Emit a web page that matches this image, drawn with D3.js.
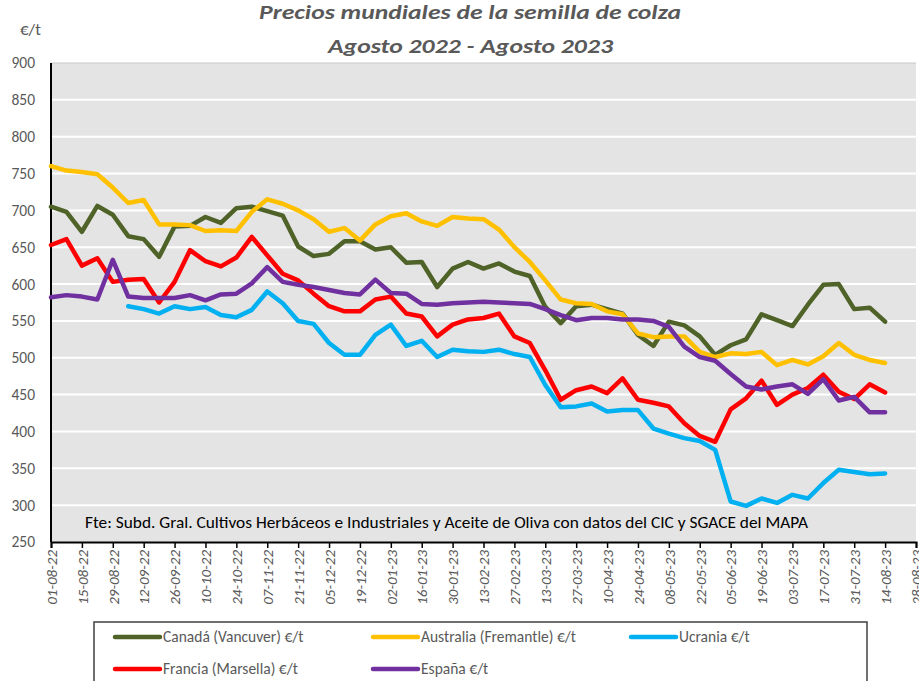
<!DOCTYPE html>
<html><head><meta charset="utf-8">
<script src="https://cdn.jsdelivr.net/npm/d3@7"></script>
<style>
body{margin:0;background:#fff;}
svg{display:block;font-family:Carlito,Calibri,Lato,"Open Sans",sans-serif;}
</style></head>
<body><svg id="c" width="919" height="681"></svg>
<script>
const dates = ["01-08-22","08-08-22","15-08-22","22-08-22","29-08-22","05-09-22","12-09-22","19-09-22","26-09-22","03-10-22",
"10-10-22","17-10-22","24-10-22","31-10-22","07-11-22","14-11-22","21-11-22","28-11-22","05-12-22","12-12-22",
"19-12-22","26-12-22","02-01-23","09-01-23","16-01-23","23-01-23","30-01-23","06-02-23","13-02-23","20-02-23",
"27-02-23","06-03-23","13-03-23","20-03-23","27-03-23","03-04-23","10-04-23","17-04-23","24-04-23","01-05-23",
"08-05-23","15-05-23","22-05-23","29-05-23","05-06-23","12-06-23","19-06-23","26-06-23","03-07-23","10-07-23",
"17-07-23","24-07-23","31-07-23","07-08-23","14-08-23"];
const tickLabels = ["01-08-22","15-08-22","29-08-22","12-09-22","26-09-22","10-10-22","24-10-22","07-11-22","21-11-22","05-12-22",
"19-12-22","02-01-23","16-01-23","30-01-23","13-02-23","27-02-23","13-03-23","27-03-23","10-04-23","24-04-23",
"08-05-23","22-05-23","05-06-23","19-06-23","03-07-23","17-07-23","31-07-23","14-08-23","28-08-23"];
const yTicks = [250,300,350,400,450,500,550,600,650,700,750,800,850,900];

const canada = [705,698,671,706,694,665,661,637,678,679,691,683,703,705,699,693,651,638,641,658,658,647,650,629,630,596,621,630,621,628,617,611,569,547,570,572,566,560,531,516,549,544,529,504,517,525,559,551,543,572,599,600,566,568,549];
const australia = [760,754,752,749,731,710,714,681,681,680,672,673,672,698,715,709,700,688,671,676,659,681,692,696,685,679,691,689,688,674,650,630,605,579,574,573,563,559,533,528,529,529,508,501,506,505,508,490,497,491,502,520,504,497,493];
const ucrania = [null,null,null,null,null,570,566,560,570,566,569,558,555,565,590,574,550,546,520,504,504,531,545,516,523,501,511,509,508,511,505,501,463,433,434,438,427,429,429,404,397,391,387,375,305,299,309,303,314,309,330,348,345,342,343];
const francia = [653,661,625,635,603,606,607,575,603,646,631,624,636,664,639,614,605,587,570,563,563,579,583,560,556,529,545,552,554,560,529,520,483,443,456,461,452,472,443,439,434,411,394,386,430,445,469,436,450,459,477,454,444,464,453];
const espana = [582,585,583,579,633,583,581,581,581,585,578,586,587,601,623,603,599,596,592,588,586,606,588,587,573,572,574,575,576,575,574,573,566,558,551,554,554,552,552,550,542,515,501,496,478,461,457,461,464,451,471,442,447,426,426];

const seriesNames = ["Canadá  (Vancuver)  €/t","Australia (Fremantle) €/t","Ucrania €/t","Francia (Marsella) €/t","España €/t"];
const seriesColors = ["#4f6228","#ffc000","#00b0f0","#ff0000","#7030a0"];
const seriesData = [canada, australia, ucrania, francia, espana];

const FONT = "Carlito,Calibri,Lato,sans-serif";
const parse = d3.timeParse("%d-%m-%y");
const svg = d3.select("#c");
const L = 51, R = 916, T = 63, B = 542;
const x = d3.scaleTime().domain([parse(tickLabels[0]), parse(tickLabels[tickLabels.length-1])]).range([L, R]);
const y = d3.scaleLinear().domain([250, 900]).range([B, T]);

svg.append("rect").attr("x", L).attr("y", T).attr("width", R - L).attr("height", B - T).attr("fill", "#e4e4e4");
svg.append("line").attr("x1", L).attr("x2", R).attr("y1", T).attr("y2", T).attr("stroke", "#c8c8c8").attr("stroke-width", 1);

// gridlines
svg.append("g").selectAll("line").data(yTicks.filter(v => v > 250 && v < 900)).join("line")
  .attr("x1", L).attr("x2", R).attr("y1", d => y(d)).attr("y2", d => y(d))
  .attr("stroke", "#fff").attr("stroke-width", 2);

// y axis labels
const yAxis = d3.axisLeft(y).tickValues(yTicks).tickSize(0).tickPadding(16);
const gy = svg.append("g").attr("transform", `translate(${L},0)`).call(yAxis);
gy.select(".domain").remove();
gy.selectAll("text").attr("font-size", 15.5).attr("fill", "#595959").style("font-family", FONT);

// x axis
const xAxis = d3.axisBottom(x).tickValues(tickLabels.map(parse)).tickSize(6).tickFormat(d3.timeFormat("%d-%m-%y"));
const gx = svg.append("g").attr("transform", `translate(0,${B})`).call(xAxis);
gx.select(".domain").attr("stroke", "#000").attr("stroke-width", 2);
gx.selectAll(".tick line").attr("stroke", "#000").attr("stroke-width", 1.5);
gx.selectAll("text").attr("font-size", 15).attr("fill", "#595959").attr("font-style", "italic")
  .attr("text-anchor", "end").attr("transform", "rotate(-90)").attr("x", -8).attr("y", 0).attr("dy", "0.35em")
  .style("font-family", FONT);

// y axis line
svg.append("line").attr("x1", L).attr("x2", L).attr("y1", T).attr("y2", B).attr("stroke", "#000").attr("stroke-width", 2);

// lines
const line = d3.line().defined(d => d.v != null).x(d => x(d.d)).y(d => y(d.v));
seriesData.forEach((arr, i) => {
  const pts = arr.map((v, j) => ({d: parse(dates[j]), v}));
  svg.append("path").datum(pts).attr("d", line).attr("fill", "none")
    .attr("stroke", seriesColors[i]).attr("stroke-width", 4.5).attr("stroke-linejoin", "round").attr("stroke-linecap", "round");
});

// source
svg.append("text").attr("x", 85).attr("y", 528).attr("font-size", 17).attr("fill", "#000")
  .attr("textLength", 723).attr("lengthAdjust", "spacingAndGlyphs")
  .text("Fte: Subd. Gral. Cultivos Herbáceos e Industriales y Aceite de Oliva con datos del CIC y SGACE del MAPA");

// titles
svg.append("text").attr("x", 259).attr("y", 18.5).attr("font-size", 20)
  .attr("font-weight", "bold").attr("font-style", "italic").attr("fill", "#595959")
  .attr("textLength", 422).attr("lengthAdjust", "spacingAndGlyphs")
  .text("Precios mundiales de la semilla de colza");
svg.append("text").attr("x", 328).attr("y", 53).attr("font-size", 20)
  .attr("font-weight", "bold").attr("font-style", "italic").attr("fill", "#595959")
  .attr("textLength", 285).attr("lengthAdjust", "spacingAndGlyphs")
  .text("Agosto 2022 - Agosto 2023");
svg.append("text").attr("x", 20).attr("y", 35).attr("font-size", 17).attr("fill", "#595959").text("€/t");

// legend
svg.append("rect").attr("x", 94).attr("y", 622).attr("width", 773).attr("height", 70)
  .attr("fill", "#fff").attr("stroke", "#404040").attr("stroke-width", 1.5);
const legPos = [[115,637],[373,637],[631,637],[115,669],[373,669]];
seriesNames.forEach((n, i) => {
  const [lx, ly] = legPos[i];
  svg.append("line").attr("x1", lx).attr("x2", lx + 45).attr("y1", ly).attr("y2", ly)
    .attr("stroke", seriesColors[i]).attr("stroke-width", 4.5).attr("stroke-linecap", "round");
  svg.append("text").attr("x", lx + 48).attr("y", ly).attr("dy", "0.35em").attr("font-size", 15.5).attr("fill", "#595959").text(n);
});
</script></body></html>
